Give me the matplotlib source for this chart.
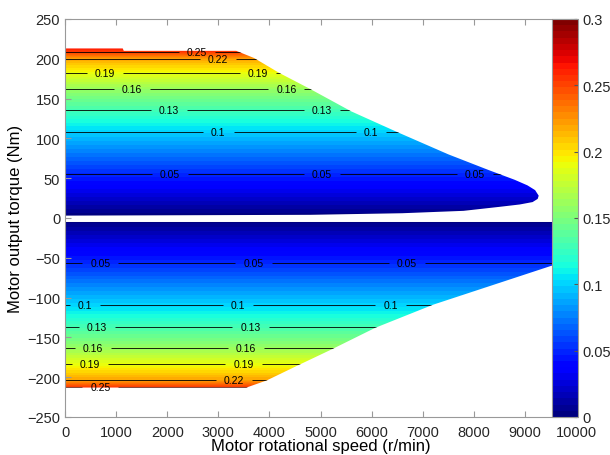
import numpy as np
import matplotlib.pyplot as plt
from matplotlib.patches import Polygon
from matplotlib.colors import Normalize
from matplotlib.cm import ScalarMappable

plt.rcParams['font.family'] = ['Liberation Sans', 'DejaVu Sans']

# speed columns of the map (r/min); the ratio only changes with torque
speed_cols = [0, 10000]

# motoring side: torque rows (Nm) and the value read at each row
torque_pos = [0, 3, 28, 55, 82, 108, 136, 162, 182, 200, 208, 216]
ratio_pos = [0.0, 0.002, 0.025, 0.05, 0.075, 0.1, 0.13, 0.16, 0.19, 0.22, 0.25, 0.275]

# generating side
torque_neg = [0, -5, -28, -56, -82, -109, -137, -163, -184, -203, -212, -216]
ratio_neg = [0.0, 0.004, 0.025, 0.05, 0.075, 0.1, 0.13, 0.16, 0.19, 0.22, 0.25, 0.27]

# operating envelopes (outline of the coloured areas)
pos_env_speed = [0, 1130, 1150, 3350, 3700, 4200, 4800, 5600, 6500, 7500, 8300, 8800, 9050, 9200,
                 9270, 9250, 9150, 8900, 8500, 7800, 6600, 4800, 0]
pos_env_torque = [213, 213, 210, 210, 201, 182, 162, 134, 108, 80, 60, 48, 41, 35,
                  28, 24, 20, 17, 14, 9, 6, 4, 3]
neg_env_speed = [0, 9600, 9600, 9520, 7200, 6070, 5220, 4530, 3950, 3550, 0]
neg_env_torque = [-5, -5, -60, -60, -109, -138, -165, -186, -204, -213, -213]

line_levels = [0.05, 0.1, 0.13, 0.16, 0.19, 0.22, 0.25]
pos_labels = [(2580, 208), (3000, 200), (780, 182), (3780, 182), (1310, 162), (4330, 162),
              (2040, 136), (5030, 136), (3000, 108), (5990, 108),
              (2050, 55), (5030, 55), (8020, 55)]
neg_labels = [(690, -56), (3690, -56), (6690, -56), (390, -109), (3390, -109), (6370, -109),
              (620, -137), (3630, -137), (550, -163), (3540, -163),
              (490, -184), (3490, -184), (3310, -203), (690, -212)]

cmap = plt.get_cmap('jet', 64)
fill_levels = np.linspace(0, 0.3, 65)

fig = plt.figure(figsize=(6.1, 4.56), dpi=100)
ax = fig.add_axes([65 / 610, 38 / 456, 511 / 610, 398 / 456])


def draw_half(torque, ratio, env_speed, env_torque, label_pos):
    z = np.tile(np.array(ratio)[:, None], (1, len(speed_cols)))
    clip = Polygon(np.column_stack([env_speed, env_torque]), closed=True,
                   transform=ax.transData, facecolor='none', edgecolor='none')
    cf = ax.contourf(speed_cols, torque, z, levels=fill_levels, cmap=cmap)
    cf.set_clip_path(clip)
    cl = ax.contour(speed_cols, torque, z, levels=line_levels, colors='k', linewidths=0.6)
    ax.clabel(cl, manual=label_pos, fontsize=7.5, inline=True, fmt='%g', inline_spacing=8)
    cl.set_clip_path(clip)


draw_half(torque_pos, ratio_pos, pos_env_speed, pos_env_torque, pos_labels)
draw_half(torque_neg, ratio_neg, neg_env_speed, neg_env_torque, neg_labels)

ax.set_xlim(0, 10000)
ax.set_ylim(-250, 250)
ax.set_xticks(np.arange(0, 10001, 1000))
ax.set_yticks(np.arange(-250, 251, 50))
ax.tick_params(direction='in', length=4, top=True, right=True, labelsize=10.5,
               colors='#999999', labelcolor='#262626')
ax.tick_params(axis='x', pad=6)
for s in ax.spines.values():
    s.set_color('#999999')
    s.set_linewidth(0.8)
ax.set_xlabel('Motor rotational speed (r/min)', fontsize=12, labelpad=-1)
ax.set_ylabel('Motor output torque (Nm)', fontsize=12, labelpad=3)

cax = fig.add_axes([552 / 610, 38 / 456, 26 / 610, 398 / 456])
cb = fig.colorbar(ScalarMappable(Normalize(0, 0.3), cmap), cax=cax,
                  ticks=[0, 0.05, 0.1, 0.15, 0.2, 0.25, 0.3])
cb.ax.set_yticklabels(['0', '0.05', '0.1', '0.15', '0.2', '0.25', '0.3'])
cb.ax.tick_params(direction='in', length=3, labelsize=10.5, colors='#555555',
                  labelcolor='#262626')
cb.outline.set_edgecolor('#999999')
cb.outline.set_linewidth(0.8)

fig.savefig('out.png', dpi=100)
